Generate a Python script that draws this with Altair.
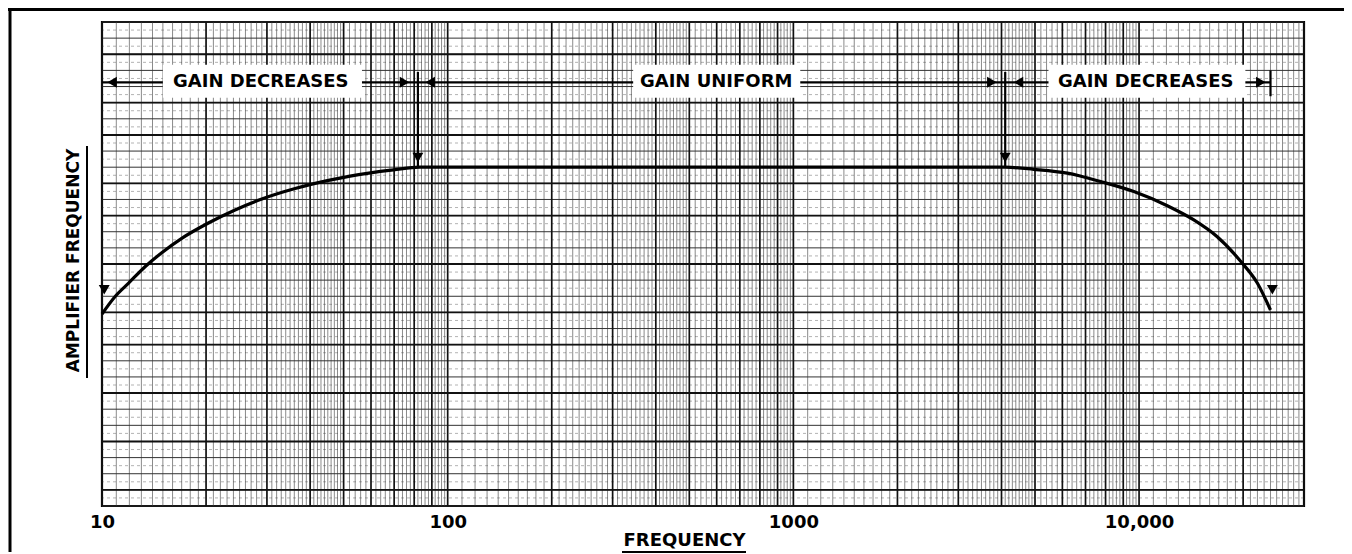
import altair as alt
import pandas as pd

# ---------------- data ----------------
# response curve (frequency in Hz, relative gain in grid units 0..30)
FREQ = [10, 10.9, 11.92, 13.32, 14.89, 17.01, 20.31, 24.26, 29.0, 36.2, 45.2, 52.2, 69.7, 83,
        4100, 4960, 6200, 7740, 9660, 12070, 14400, 16800, 19700, 22000, 24000]
GAIN = [11.9, 12.97, 13.8, 14.83, 15.7, 16.59, 17.54, 18.35, 19.03, 19.68, 20.18, 20.45, 20.83, 21.0,
        21.0, 20.87, 20.63, 20.11, 19.49, 18.61, 17.73, 16.70, 15.15, 13.81, 12.15]

# x axis ticks
TICK_VALUES = [10, 100, 1000, 10000]
TICK_LABELS = ["10", "100", "1000", "10,000"]

# log graph paper rulings
DECADES = [10, 100, 1000, 10000]
MAJOR_MULT = [1, 2, 3, 4, 5, 6, 7, 8, 9]
MINOR_MULT = [1.1, 1.2, 1.3, 1.4, 1.5, 1.6, 1.7, 1.8, 1.9,
              2.1, 2.2, 2.3, 2.4, 2.5, 2.6, 2.7, 2.8, 2.9,
              3.1, 3.2, 3.3, 3.4, 3.5, 3.6, 3.7, 3.8, 3.9,
              4.1, 4.2, 4.3, 4.4, 4.5, 4.6, 4.7, 4.8, 4.9,
              5.2, 5.4, 5.6, 5.8, 6.2, 6.4, 6.6, 6.8,
              7.2, 7.4, 7.6, 7.8, 8.2, 8.4, 8.6, 8.8, 9.2, 9.4, 9.6, 9.8]
H_MINOR = list(range(0, 31))
H_MAJOR = [1, 4, 7, 10, 12, 15, 18, 20, 23, 25, 28]
H_FAINT = [i + 0.5 for i in range(0, 30)]

# annotations
DIM_LINE_F = [10, 24000]
DIM_LINE_V = 26.26
LIMIT_F = [82, 4100]
LIMIT_TOP_V = 26.9
LIMIT_BOT_V = 21.0
END_TICK_F = [24000]
END_TICK_V = [27.0, 25.4]

LABELS = ["GAIN DECREASES", "GAIN UNIFORM", "GAIN DECREASES"]
LABEL_F = [28.8, 598, 10450]
BOX_F1 = [15.0, 344, 5470]
BOX_F2 = [56.5, 1047, 20300]
BOX_V1 = 25.3
BOX_V2 = 27.35

ARROW_F = [10.7, 75, 89, 3750, 4480, 22500, 82, 4100, 10.15, 24300]
ARROW_V = [26.26, 26.26, 26.26, 26.26, 26.26, 26.26, 21.6, 21.6, 13.4, 13.4]
ARROW_SHAPE = ["triangle-left", "triangle-right", "triangle-left", "triangle-right",
               "triangle-left", "triangle-right", "triangle-down", "triangle-down",
               "triangle-down", "triangle-down"]

FONT = "DejaVu Sans"
W, H = 1202, 484

# ---------------- scales & shared axes ----------------
xs = alt.Scale(type="log", domain=[10, 30000], nice=False)
ys = alt.Scale(domain=[0, 30], nice=False, zero=False)

label_expr = " : ".join(
    f"datum.value == {v} ? '{l}'" for v, l in zip(TICK_VALUES, TICK_LABELS)
) + " : ''"

XAX = alt.Axis(
    values=TICK_VALUES, labelExpr=label_expr, grid=False, ticks=False, tickSize=0,
    domain=False, labelFont=FONT, labelFontWeight="bold", labelFontSize=18,
    labelColor="#000", labelPadding=7, labelFlush=False, labelOverlap=False,
    title="FREQUENCY", titleFont=FONT, titleFontWeight="bold", titleFontSize=18,
    titleColor="#000", titleX=582, titleY=34, titleBaseline="middle", titleAlign="center",
)
YAX = alt.Axis(
    labels=False, ticks=False, domain=False, grid=False,
    title="AMPLIFIER FREQUENCY", titleFont=FONT, titleFontWeight="bold", titleFontSize=17,
    titleColor="#000", titleX=-29, titleY=238, titleBaseline="middle", titleAlign="center",
    titleAngle=270,
)


def X(field):
    return alt.X(field, scale=xs, axis=XAX)


def Y(field):
    return alt.Y(field, scale=ys, axis=YAX)


major_v = [d * m for d in DECADES for m in MAJOR_MULT if d * m <= 30000]
minor_v = [d * m for d in DECADES for m in MINOR_MULT if d * m <= 30000]

vgrid_minor = alt.Chart(pd.DataFrame({"f": minor_v})).mark_rule(
    color="#3a3a3a", strokeWidth=0.8, opacity=0.75
).encode(x=X("f:Q"))

vgrid_major = alt.Chart(pd.DataFrame({"f": major_v})).mark_rule(
    color="#111111", strokeWidth=1.7
).encode(x=X("f:Q"))

hgrid_faint = alt.Chart(pd.DataFrame({"v": H_FAINT})).mark_rule(
    color="#777777", strokeWidth=0.8, strokeDash=[3, 3], opacity=0.7
).encode(y=Y("v:Q"))

hgrid_minor = alt.Chart(pd.DataFrame({"v": H_MINOR})).mark_rule(
    color="#333333", strokeWidth=1.0
).encode(y=Y("v:Q"))

hgrid_major = alt.Chart(pd.DataFrame({"v": H_MAJOR})).mark_rule(
    color="#111111", strokeWidth=1.9
).encode(y=Y("v:Q"))

dim_df = pd.DataFrame({"f1": [DIM_LINE_F[0]], "f2": [DIM_LINE_F[1]], "v": [DIM_LINE_V]})
dim_line = alt.Chart(dim_df).mark_rule(color="#000", strokeWidth=2.2).encode(
    x=X("f1:Q"), x2="f2:Q", y=Y("v:Q")
)

lim_df = pd.DataFrame({"f": LIMIT_F, "v1": [LIMIT_TOP_V] * 2, "v2": [LIMIT_BOT_V] * 2})
limit_lines = alt.Chart(lim_df).mark_rule(color="#000", strokeWidth=2.2).encode(
    x=X("f:Q"), y=Y("v1:Q"), y2="v2:Q"
)

end_df = pd.DataFrame({"f": END_TICK_F, "v1": [END_TICK_V[0]], "v2": [END_TICK_V[1]]})
end_tick = alt.Chart(end_df).mark_rule(color="#000", strokeWidth=2.2).encode(
    x=X("f:Q"), y=Y("v1:Q"), y2="v2:Q"
)

box_df = pd.DataFrame({"f1": BOX_F1, "f2": BOX_F2, "v1": [BOX_V1] * 3, "v2": [BOX_V2] * 3})
boxes = alt.Chart(box_df).mark_rect(color="white").encode(
    x=X("f1:Q"), x2="f2:Q", y=Y("v1:Q"), y2="v2:Q"
)

lab_df = pd.DataFrame({"f": LABEL_F, "v": [DIM_LINE_V] * 3, "t": LABELS})
labels = alt.Chart(lab_df).mark_text(
    font=FONT, fontWeight="bold", fontSize=18,
    align="center", baseline="middle", color="#000"
).encode(x=X("f:Q"), y=Y("v:Q"), text="t:N")

curve_df = pd.DataFrame({"f": FREQ, "g": GAIN})
curve = alt.Chart(curve_df).mark_line(
    color="#000", strokeWidth=3.2, interpolate="monotone"
).encode(x=X("f:Q"), y=Y("g:Q"))

arr_df = pd.DataFrame({"f": ARROW_F, "v": ARROW_V, "s": ARROW_SHAPE})
arrows = alt.Chart(arr_df).mark_point(filled=True, color="#000", size=120, opacity=1).encode(
    x=X("f:Q"), y=Y("v:Q"), shape=alt.Shape("s:N", scale=None)
)

# decorations: title underlines and page frame
x_underline = alt.Chart(pd.DataFrame({"k": [0]})).mark_rule(color="#000", strokeWidth=2).encode(
    x=alt.value(520), x2=alt.value(644), y=alt.value(530))
y_underline = alt.Chart(pd.DataFrame({"k": [0]})).mark_rule(color="#000", strokeWidth=2).encode(
    x=alt.value(-15), y=alt.value(124), y2=alt.value(356))
frame_top = alt.Chart(pd.DataFrame({"k": [0]})).mark_rule(color="#000", strokeWidth=3).encode(
    x=alt.value(-94), x2=alt.value(1242), y=alt.value(-12.5))
frame_left = alt.Chart(pd.DataFrame({"k": [0]})).mark_rule(color="#000", strokeWidth=3).encode(
    x=alt.value(-92), y=alt.value(-14), y2=alt.value(530))

chart = alt.layer(
    hgrid_faint, vgrid_minor, hgrid_minor, vgrid_major, hgrid_major,
    dim_line, limit_lines, end_tick, boxes, labels, curve, arrows,
    x_underline, y_underline, frame_top, frame_left,
).properties(
    width=W, height=H,
    padding={"left": 94, "top": 14, "right": 40, "bottom": 48},
    autosize=alt.AutoSizeParams(type="none"),
    background="white",
).configure_view(stroke="#000", strokeWidth=2.2)

chart.save("out.html", embed_options={"renderer": "svg", "actions": False})
